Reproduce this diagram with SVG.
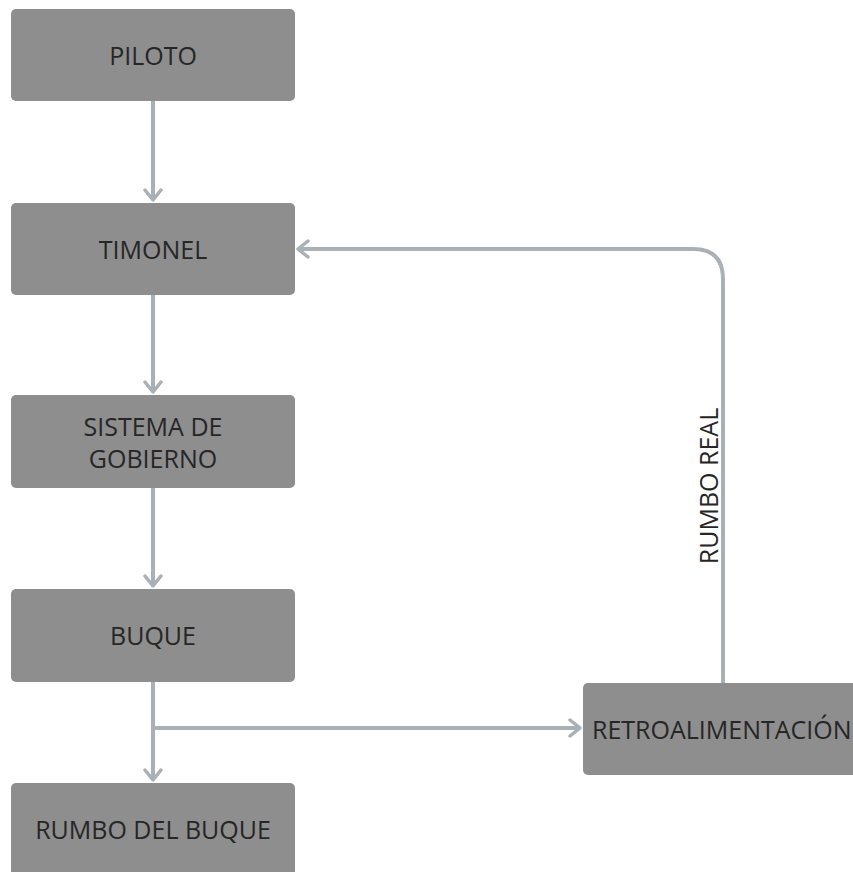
<svg xmlns="http://www.w3.org/2000/svg" width="853" height="872" viewBox="0 0 853 872">
<style>
.box{fill:#8e8e8e;}
.lbl{font-family:"Open Sans","Liberation Sans",sans-serif;font-size:25px;fill:#262626;text-anchor:middle;dominant-baseline:central;}
.con{fill:none;stroke:#a9b0b6;stroke-width:4;}
</style>
<defs>
<marker id="ah" viewBox="0 0 14 20" refX="12" refY="10" markerWidth="14" markerHeight="20" markerUnits="userSpaceOnUse" orient="auto">
<path d="M2,2 L12,10 L2,18" fill="none" stroke="#a9b0b6" stroke-width="3.5" stroke-linecap="round" stroke-linejoin="round"/>
</marker>
</defs>
<rect width="853" height="872" fill="#ffffff"/>
<g id="connectors">
<path class="con" d="M153,101 V200" marker-end="url(#ah)"/>
<path class="con" d="M153,295 V392" marker-end="url(#ah)"/>
<path class="con" d="M153,488 V586" marker-end="url(#ah)"/>
<path class="con" d="M153,682 V780" marker-end="url(#ah)"/>
<path class="con" d="M153,728 H580" marker-end="url(#ah)"/>
<path class="con" d="M723,683 V279 Q723,249 693,249 H298" marker-end="url(#ah)"/>
<text class="lbl" transform="translate(708,486) rotate(-90)">RUMBO REAL</text>
</g>
<g id="piloto"><rect class="box" x="11" y="9" width="284" height="92" rx="5"/><text class="lbl" x="153" y="55">PILOTO</text></g>
<g id="timonel"><rect class="box" x="11" y="203" width="284" height="92" rx="5"/><text class="lbl" x="153" y="249">TIMONEL</text></g>
<g id="sistema"><rect class="box" x="11" y="395" width="284" height="93" rx="5"/><text class="lbl" x="153" y="426">SISTEMA DE</text><text class="lbl" x="153" y="458">GOBIERNO</text></g>
<g id="buque"><rect class="box" x="11" y="589" width="284" height="93" rx="5"/><text class="lbl" x="153" y="635">BUQUE</text></g>
<g id="rumbo"><rect class="box" x="11" y="783" width="284" height="95" rx="5"/><text class="lbl" x="153" y="829">RUMBO DEL BUQUE</text></g>
<g id="retro"><rect class="box" x="583" y="683" width="284" height="92" rx="5"/><text class="lbl" x="592" y="729" style="text-anchor:start">RETROALIMENTACIÓN</text></g>
</svg>
